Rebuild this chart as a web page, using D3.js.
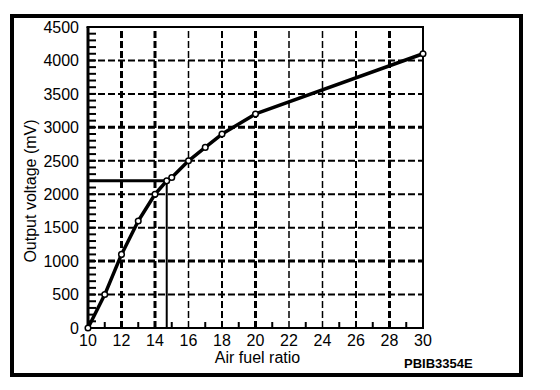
<!DOCTYPE html>
<html><head><meta charset="utf-8">
<script src="https://cdn.jsdelivr.net/npm/d3@7"></script>
<style>html,body{margin:0;padding:0;background:#fff;}svg{display:block;font-family:"Liberation Sans",Arial,sans-serif;}</style>
</head><body>
<svg id="c" width="560" height="390"></svg>
<script>
// data
const airFuelRatio = [10, 11, 12, 13, 14, 14.7, 15, 16, 17, 18, 20, 30];
const outputMv     = [0, 500, 1100, 1600, 2000, 2200, 2250, 2500, 2700, 2900, 3200, 4100];
const xTickValues = [10, 12, 14, 16, 18, 20, 22, 24, 26, 28, 30];
const yTickValues = [0, 500, 1000, 1500, 2000, 2500, 3000, 3500, 4000, 4500];
const refPoint = {afr: 14.7, mv: 2200};
const xLabel = "Air fuel ratio";
const yLabel = "Output voltage (mV)";
const figCode = "PBIB3354E";

const svg = d3.select("#c");
const x = d3.scaleLinear().domain([10, 30]).range([88, 423]);
const y = d3.scaleLinear().domain([0, 4500]).range([328, 27]);

// outer frame
svg.append("rect").attr("x", 12).attr("y", 16).attr("width", 509).attr("height", 359)
  .attr("fill", "none").attr("stroke", "#000").attr("stroke-width", 4);

// gridline widths (style)
const vW = {12: 3, 14: 3, 16: 1.5, 18: 2, 20: 3, 22: 1.5, 24: 1.5, 26: 2, 28: 3};
const hW = {500: 2, 1000: 3, 1500: 2, 2000: 2, 2500: 2, 3000: 3, 3500: 2, 4000: 2};

const grid = svg.append("g");
xTickValues.filter(v => v > 10 && v < 30).forEach(v => {
  grid.append("line").attr("x1", x(v)).attr("x2", x(v)).attr("y1", y(0)).attr("y2", y(4500))
    .attr("stroke", "#000").attr("stroke-width", vW[v] || 2).attr("stroke-dasharray", "7,3");
});
yTickValues.filter(v => v > 0 && v < 4500).forEach(v => {
  grid.append("line").attr("x1", x(10)).attr("x2", x(30)).attr("y1", y(v)).attr("y2", y(v))
    .attr("stroke", "#000").attr("stroke-width", hW[v] || 2).attr("stroke-dasharray", "7,3");
});

// minor ticks on y (every 100) inward
const yMinor = d3.range(100, 4500, 100);
svg.append("g").selectAll("line").data(yMinor).join("line")
  .attr("x1", x(10)).attr("x2", x(10) + 8).attr("y1", d => y(d)).attr("y2", d => y(d))
  .attr("stroke", "#000").attr("stroke-width", 2);
// minor ticks on x (odd values) inward
const xMinor = d3.range(11, 30, 2);
svg.append("g").selectAll("line").data(xMinor).join("line")
  .attr("x1", d => x(d)).attr("x2", d => x(d)).attr("y1", y(0)).attr("y2", y(0) - 6)
  .attr("stroke", "#000").attr("stroke-width", 2);

// plot border
svg.append("line").attr("x1", x(10)).attr("x2", x(10)).attr("y1", y(0)).attr("y2", y(4500)).attr("stroke", "#000").attr("stroke-width", 3);
svg.append("line").attr("x1", x(30)).attr("x2", x(30)).attr("y1", y(0)).attr("y2", y(4500)).attr("stroke", "#000").attr("stroke-width", 2);
svg.append("line").attr("x1", x(10) - 1.5).attr("x2", x(30) + 1).attr("y1", y(4500)).attr("y2", y(4500)).attr("stroke", "#000").attr("stroke-width", 2);
svg.append("line").attr("x1", x(10) - 1.5).attr("x2", x(30) + 1).attr("y1", y(0)).attr("y2", y(0)).attr("stroke", "#000").attr("stroke-width", 2);

// reference lines
svg.append("line").attr("x1", x(10)).attr("x2", x(refPoint.afr)).attr("y1", y(refPoint.mv)).attr("y2", y(refPoint.mv))
  .attr("stroke", "#000").attr("stroke-width", 3);
svg.append("line").attr("x1", x(refPoint.afr)).attr("x2", x(refPoint.afr)).attr("y1", y(refPoint.mv)).attr("y2", y(0))
  .attr("stroke", "#000").attr("stroke-width", 2);

// curve
const pts = airFuelRatio.map((a, i) => [a, outputMv[i]]);
svg.append("path").datum(pts)
  .attr("d", d3.line().x(d => x(d[0])).y(d => y(d[1])))
  .attr("fill", "none").attr("stroke", "#000").attr("stroke-width", 3.5).attr("stroke-linejoin", "round");
svg.append("g").selectAll("circle").data(pts).join("circle")
  .attr("cx", d => x(d[0])).attr("cy", d => y(d[1])).attr("r", 2.8)
  .attr("fill", "#fff").attr("stroke", "#000").attr("stroke-width", 1.5);

// tick labels
svg.append("g").selectAll("text").data(yTickValues).join("text")
  .attr("x", 79).attr("y", d => y(d)).attr("dy", "0.36em").attr("text-anchor", "end")
  .attr("font-size", 16).text(d => d);
svg.append("g").selectAll("text").data(xTickValues).join("text")
  .attr("x", d => x(d)).attr("y", 346).attr("text-anchor", "middle")
  .attr("font-size", 16).text(d => d);

// axis titles
svg.append("text").attr("x", x(20) + 2).attr("y", 363).attr("text-anchor", "middle")
  .attr("font-size", 16).text(xLabel);
svg.append("text").attr("transform", "translate(36,191) rotate(-90)").attr("text-anchor", "middle")
  .attr("font-size", 16).text(yLabel);
svg.append("text").attr("x", 404).attr("y", 368).attr("font-size", 13).attr("font-weight", "bold").text(figCode);
</script>
</body></html>
